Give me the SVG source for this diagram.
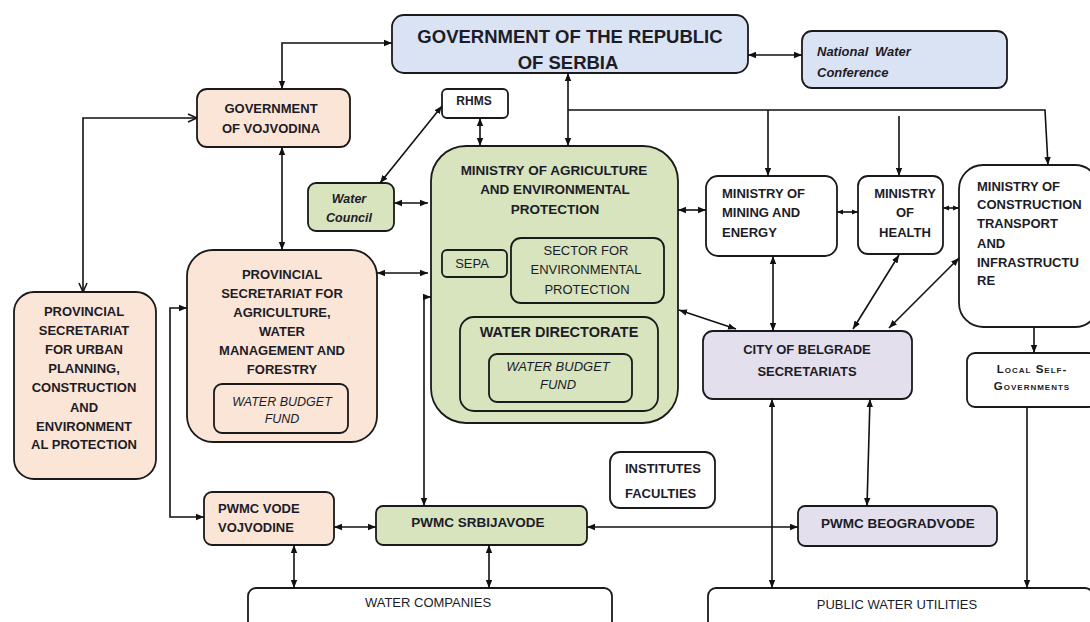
<svg xmlns="http://www.w3.org/2000/svg" width="1090" height="622" viewBox="0 0 1090 622">
<defs>
<style>
.box{stroke:#1a1a1a;stroke-width:1.8}
.blue{fill:#dae3f3}.peach{fill:#fbe5d6}.green{fill:#d7e4bd}.lav{fill:#e4dfec}.white{fill:#ffffff}
text{font-family:"Liberation Sans",Arial,sans-serif;fill:#1c1c28}
.b{font-weight:bold;font-size:13px}
.c{text-anchor:middle}
.bi{font-weight:bold;font-style:italic;font-size:13px}
.i{font-style:italic;font-size:13px}
.r{font-size:13px}
.con{fill:none;stroke:#111;stroke-width:1.6}
</style>
<marker id="a" viewBox="0 0 10 10" refX="10" refY="5" markerWidth="8" markerHeight="8" markerUnits="userSpaceOnUse" orient="auto-start-reverse"><path d="M0,1 L10,5 L0,9 z" fill="#111"/></marker>
<marker id="s" viewBox="0 0 10 10" refX="10" refY="5" markerWidth="6" markerHeight="7" markerUnits="userSpaceOnUse" orient="auto-start-reverse"><path d="M0,1 L10,5 L0,9 z" fill="#111"/></marker>
<marker id="o" viewBox="0 0 10 10" refX="10" refY="5" markerWidth="10" markerHeight="10" markerUnits="userSpaceOnUse" orient="auto-start-reverse"><path d="M1,1 L10,5 L1,9" fill="none" stroke="#111" stroke-width="1.5"/></marker>
</defs>
<rect width="1090" height="622" fill="#ffffff"/>

<g id="gov-serbia"><rect class="box blue" x="392" y="15" width="356" height="58" rx="12"/>
<text class="c" x="570" y="43" style="font-weight:bold;font-size:18.5px">GOVERNMENT OF THE REPUBLIC</text>
<text class="c" x="568" y="69" style="font-weight:bold;font-size:18.5px">OF SERBIA</text></g>

<g id="national-water-conference"><rect class="box blue" x="802" y="31" width="205" height="57" rx="10"/>
<text class="bi" x="817" y="56" style="word-spacing:3px">National Water</text>
<text class="bi" x="817" y="77">Conference</text></g>

<g id="gov-vojvodina"><rect class="box peach" x="197" y="89" width="153" height="58" rx="10"/>
<text class="b c" x="271" y="113">GOVERNMENT</text>
<text class="b c" x="271" y="133">OF VOJVODINA</text></g>

<g id="rhms"><rect class="box white" x="442" y="89" width="66" height="29" rx="5"/>
<text class="b c" x="474" y="105" style="font-size:12px">RHMS</text></g>

<g id="water-council"><rect class="box green" x="308" y="183" width="86" height="48" rx="8"/>
<text class="bi c" x="349" y="203" style="font-size:12.5px">Water</text>
<text class="bi c" x="349" y="222" style="font-size:12.5px">Council</text></g>

<g id="ministry-agriculture"><rect class="box green" x="431" y="146" width="247" height="277" rx="35"/>
<text class="b c" x="554" y="175" style="font-size:13.5px">MINISTRY OF AGRICULTURE</text>
<text class="b c" x="555" y="194" style="font-size:13.5px">AND ENVIRONMENTAL</text>
<text class="b c" x="555" y="214" style="font-size:13.5px">PROTECTION</text>
<g id="sepa"><rect class="box green" x="442" y="250" width="65" height="27" rx="5"/>
<text class="r c" x="472" y="268">SEPA</text></g>
<g id="sector-env"><rect class="box green" x="511" y="238" width="153" height="65" rx="10"/>
<text class="r c" x="586" y="255">SECTOR FOR</text>
<text class="r c" x="586" y="274">ENVIRONMENTAL</text>
<text class="r c" x="587" y="294">PROTECTION</text></g>
<g id="water-directorate"><rect class="box green" x="460" y="317" width="198" height="94" rx="14"/>
<text class="b c" x="559" y="337" style="font-size:14.5px">WATER DIRECTORATE</text>
<g id="water-budget-fund-rs"><rect class="box green" x="489" y="354" width="143" height="48" rx="8"/>
<text class="i c" x="558" y="371">WATER BUDGET</text>
<text class="i c" x="558" y="389">FUND</text></g></g></g>

<g id="ministry-mining"><rect class="box white" x="706" y="176" width="131" height="80" rx="12"/>
<text class="b" x="722" y="198">MINISTRY OF</text>
<text class="b" x="722" y="217">MINING AND</text>
<text class="b" x="722" y="237">ENERGY</text></g>

<g id="ministry-health"><rect class="box white" x="858" y="176" width="85" height="78" rx="10"/>
<text class="b c" x="905" y="198">MINISTRY</text>
<text class="b c" x="905" y="217">OF</text>
<text class="b c" x="905" y="237">HEALTH</text></g>

<g id="ministry-construction"><rect class="box white" x="959" y="165" width="140" height="162" rx="24"/>
<text class="b" x="977" y="191">MINISTRY OF</text>
<text class="b" x="977" y="209">CONSTRUCTION</text>
<text class="b" x="977" y="228">TRANSPORT</text>
<text class="b" x="977" y="248">AND</text>
<text class="b" x="977" y="267">INFRASTRUCTU</text>
<text class="b" x="977" y="285">RE</text></g>

<g id="city-belgrade"><rect class="box lav" x="703" y="331" width="209" height="68" rx="10"/>
<text class="b c" x="807" y="354">CITY OF BELGRADE</text>
<text class="b c" x="807" y="376">SECRETARIATS</text></g>

<g id="local-self-gov"><rect class="box white" x="967" y="353" width="130" height="54" rx="8"/>
<text class="b c" x="1032" y="373" style="font-size:11.5px;font-variant:small-caps;letter-spacing:1px">Local Self-</text>
<text class="b c" x="1032" y="390" style="font-size:11.5px;font-variant:small-caps;letter-spacing:1px">Governments</text></g>

<g id="prov-urban"><rect class="box peach" x="14" y="292" width="142" height="187" rx="20"/>
<text class="b c" x="84" y="316">PROVINCIAL</text>
<text class="b c" x="84" y="335">SECRETARIAT</text>
<text class="b c" x="84" y="354">FOR URBAN</text>
<text class="b c" x="84" y="373">PLANNING,</text>
<text class="b c" x="84" y="392">CONSTRUCTION</text>
<text class="b c" x="84" y="412">AND</text>
<text class="b c" x="84" y="431">ENVIRONMENT</text>
<text class="b c" x="84" y="449">AL PROTECTION</text></g>

<g id="prov-agriculture"><rect class="box peach" x="187" y="250" width="190" height="192" rx="26"/>
<text class="b c" x="282" y="279">PROVINCIAL</text>
<text class="b c" x="282" y="298">SECRETARIAT FOR</text>
<text class="b c" x="282" y="317">AGRICULTURE,</text>
<text class="b c" x="282" y="336">WATER</text>
<text class="b c" x="282" y="355">MANAGEMENT AND</text>
<text class="b c" x="282" y="374">FORESTRY</text>
<g id="water-budget-fund-vo"><rect class="box peach" x="214" y="384" width="134" height="49" rx="8"/>
<text class="i c" x="282" y="406" style="font-size:12.5px">WATER BUDGET</text>
<text class="i c" x="282" y="423" style="font-size:12.5px">FUND</text></g></g>

<g id="institutes"><rect class="box white" x="610" y="452" width="105" height="56" rx="10"/>
<text class="b" x="625" y="473">INSTITUTES</text>
<text class="b" x="625" y="498">FACULTIES</text></g>

<g id="pwmc-vode-vojvodine"><rect class="box peach" x="204" y="492" width="130" height="53" rx="8"/>
<text class="b" x="218" y="513">PWMC VODE</text>
<text class="b" x="218" y="532">VOJVODINE</text></g>

<g id="pwmc-srbijavode"><rect class="box green" x="376" y="506" width="211" height="39" rx="7"/>
<text class="b c" x="478" y="527" style="font-size:13.5px">PWMC SRBIJAVODE</text></g>

<g id="pwmc-beogradvode"><rect class="box lav" x="798" y="506" width="199" height="40" rx="7"/>
<text class="b c" x="898" y="528" style="font-size:13.5px">PWMC BEOGRADVODE</text></g>

<g id="water-companies"><rect class="box white" x="248" y="588" width="364" height="50" rx="8"/>
<text class="r c" x="428" y="607">WATER COMPANIES</text></g>

<g id="public-water-utilities"><rect class="box white" x="708" y="588" width="385" height="50" rx="8"/>
<text class="r c" x="897" y="609">PUBLIC WATER UTILITIES</text></g>

<g id="connectors">
<path class="con" d="M282,89 V43 H392" marker-start="url(#a)" marker-end="url(#a)"/>
<path class="con" d="M748,55 H802" marker-start="url(#a)" marker-end="url(#a)"/>
<path class="con" d="M197,118 H83 V292" marker-start="url(#o)" marker-end="url(#o)"/>
<path class="con" d="M282,147 V250" marker-start="url(#a)" marker-end="url(#a)"/>
<path class="con" d="M480,118 V146" marker-start="url(#a)" marker-end="url(#a)"/>
<path class="con" d="M380,183 L442,106" marker-start="url(#a)" marker-end="url(#a)"/>
<path class="con" d="M394,203 H428" marker-start="url(#a)" marker-end="url(#a)"/>
<path class="con" d="M377,273 H428" marker-start="url(#a)" marker-end="url(#a)"/>
<path class="con" d="M431,297 H424 V506" marker-start="url(#a)" marker-end="url(#a)"/>
<path class="con" d="M187,308 H170 V517 H204" marker-start="url(#a)" marker-end="url(#a)"/>
<path class="con" d="M334,527 H376" marker-start="url(#a)" marker-end="url(#a)"/>
<path class="con" d="M587,527 H798" marker-start="url(#a)" marker-end="url(#a)"/>
<path class="con" d="M294,545 V588" marker-start="url(#a)" marker-end="url(#a)"/>
<path class="con" d="M489,545 V588" marker-start="url(#a)" marker-end="url(#a)"/>
<path class="con" d="M568,73 V146" marker-start="url(#a)" marker-end="url(#a)"/>
<path class="con" d="M568,110 H1045 L1048,165" marker-end="url(#a)"/>
<path class="con" d="M768,110 V176" marker-end="url(#a)"/>
<path class="con" d="M899,116 V176" marker-end="url(#a)"/>
<path class="con" d="M678,210 H706" marker-start="url(#a)" marker-end="url(#a)"/>
<path class="con" d="M837,212 H858" marker-start="url(#s)" marker-end="url(#s)"/>
<path class="con" d="M943,208 H959" marker-start="url(#s)" marker-end="url(#s)"/>
<path class="con" d="M773,256 V331" marker-start="url(#a)" marker-end="url(#a)"/>
<path class="con" d="M899,255 L853,329" marker-start="url(#a)" marker-end="url(#a)"/>
<path class="con" d="M959,258 L889,328" marker-start="url(#a)" marker-end="url(#a)"/>
<path class="con" d="M679,310 L736,329" marker-start="url(#a)" marker-end="url(#a)"/>
<path class="con" d="M1034,327 V353" marker-end="url(#a)"/>
<path class="con" d="M1027,407 V588" marker-end="url(#a)"/>
<path class="con" d="M772,399 V588" marker-start="url(#a)" marker-end="url(#a)"/>
<path class="con" d="M870,399 L867,506" marker-start="url(#a)" marker-end="url(#a)"/>
</g>
</svg>
